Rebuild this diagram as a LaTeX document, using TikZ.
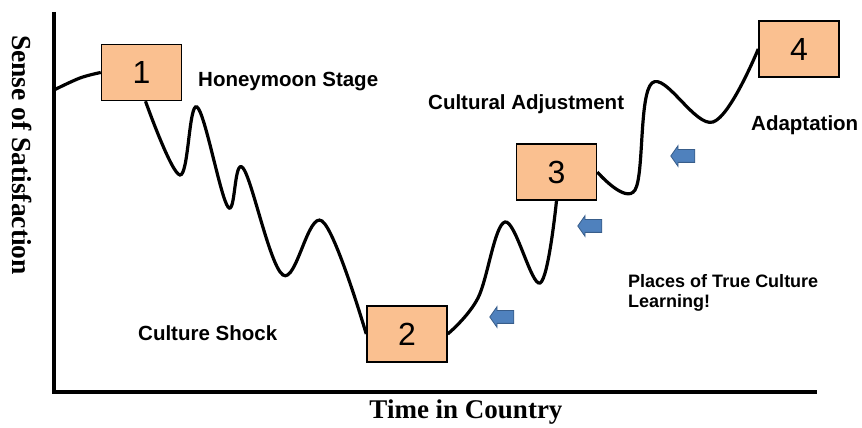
\documentclass[tikz,border=0pt]{standalone}
\usepackage{fontspec}
\setmainfont{Liberation Serif}
\setsansfont{Liberation Sans}
\usetikzlibrary{shapes.arrows}

\definecolor{boxfill}{RGB}{250,192,144}
\definecolor{arrowblue}{RGB}{79,129,189}
\definecolor{arrowline}{RGB}{56,93,138}

\tikzset{
  stagebox/.style = {draw, line width=1.5pt, fill=boxfill, minimum width=80pt,
                     minimum height=56pt, inner sep=0pt,
                     font=\sffamily\fontsize{32}{32}\selectfont},
  stagelabel/.style = {anchor=west, inner sep=0pt,
                       font=\sffamily\bfseries\fontsize{20.5}{24}\selectfont},
  learnarrow/.style = {single arrow, fill=arrowblue, draw=arrowline, line width=0.8pt,
                       shape border rotate=180, minimum height=24pt,
                       inner xsep=0pt, inner ysep=6pt,
                       single arrow head extend=4pt, single arrow tip angle=110},
  curve/.style = {line width=3.2pt, smooth, tension=0.6}
}

\begin{document}
\begin{tikzpicture}[x=1pt,y=1pt]
            \useasboundingbox (0,0) rectangle (862,428);
            % axes
            \coordinate (top) at (54,416);
            \coordinate (origin) at (54,36);
            \coordinate (right) at (817,36);
            \draw [line width=4pt] (top) -- (origin) -- (right);
            \node at (466,16) [font=\bfseries\fontsize{27}{27}\selectfont] {Time in Country};
            \node at (22,273) [rotate=-90, font=\bfseries\fontsize{27.5}{27}\selectfont] {Sense of Satisfaction};
            % stages
            \node [stagebox] (b1) at (141.5,355.5) {1};
            \node [stagebox] (b2) at (407,94) {2};
            \node [stagebox] (b3) at (556.5,256) {3};
            \node [stagebox] (b4) at (799,379) {4};
            \coordinate (start) at (54,338);
            \draw [curve] plot coordinates {(start) (80,350) (b1.west)};
            \draw [curve] plot coordinates {([xshift=4pt]b1.south) (180,253) (197,321) (228,221)
                    (243,260) (283,153) (322,207) (b2.west)};
            \draw [curve] plot coordinates {(b2.east) (478,130) (505,206) (540,145) (b3.south)};
            \draw [curve] plot coordinates {(b3.east) (635,238) (652,345) (713,306) (b4.west)};
            % labels
            \node [stagelabel] (honey) at (198,346) {Honeymoon Stage};
            \node [stagelabel] (adjust) at (428,324) {Cultural Adjustment};
            \node [stagelabel] (adapt) at (751,303) {Adaptation};
            \node [stagelabel] (shock) at (138,95) {Culture Shock};
            \node [stagelabel, align=left, font=\sffamily\bfseries\fontsize{18}{20}\selectfont]
                  (places) at (628,135) {Places of True Culture\\Learning!};
            % arrows
            \foreach \x/\y [count=\i] in {504/111,592/202,685/272}
                \node [learnarrow] (a\i) at (\x,\y) {};
\end{tikzpicture}
\end{document}
